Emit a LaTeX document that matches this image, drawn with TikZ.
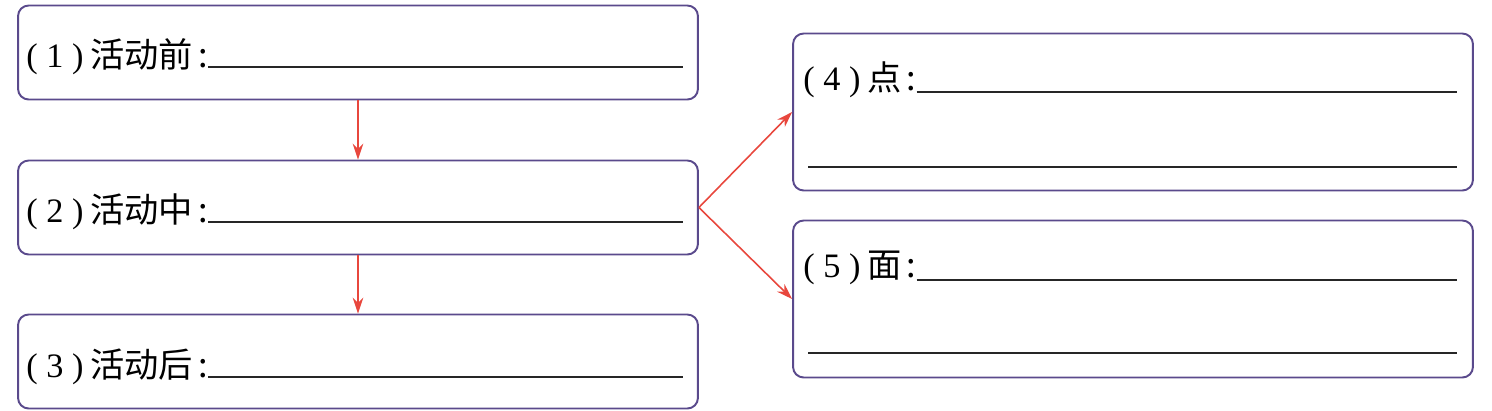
\documentclass[tikz,border=0pt]{standalone}
\usepackage{fontspec}
\setmainfont{Liberation Serif}
\newfontfamily\cjk{Noto Sans CJK SC}
\usetikzlibrary{arrows.meta}
\definecolor{framecol}{HTML}{5A4A8C}
\definecolor{arrowcol}{HTML}{E8473D}
\newcommand\numlabel[1]{(\hspace{.25em}#1\hspace{.25em})\hspace{.2em}}
\newcommand\colonmark{\hspace{.15em}{\cjk :}\hspace{.04em}}

\begin{document}
\begin{tikzpicture}[x=0.02cm,y=-0.02cm,
  frame/.style={draw=framecol,line width=1.1pt,rounded corners=6pt,
    minimum width=13.6cm,inner sep=0pt},
  small/.style={frame,minimum height=1.88cm},
  large/.style={frame,minimum height=3.14cm},
  label/.style={anchor=base west,inner sep=0pt,font=\fontsize{19.5}{23}\selectfont},
  blank/.style={line width=1pt,black!85},
  flow/.style={draw=arrowcol,line width=.9pt,-{Stealth[length=9pt,width=6pt]}}]
\useasboundingbox (0,0) rectangle (1492,410);

\node[small] (b1) at (358,52.5) {};
\node[small] (b2) at (358,207.5) {};
\node[small] (b3) at (358,361.5) {};
\node[large] (b4) at (1133,112) {};
\node[large] (b5) at (1133,299) {};

\node[label] (t1) at (26,67) {\numlabel{1}{\cjk 活动前}\colonmark};
\node[label] (t2) at (26,222) {\numlabel{2}{\cjk 活动中}\colonmark};
\node[label] (t3) at (26,377) {\numlabel{3}{\cjk 活动后}\colonmark};
\node[label] (t4) at (803,90) {\numlabel{4}{\cjk 点}\colonmark};
\node[label] (t5) at (803,277) {\numlabel{5}{\cjk 面}\colonmark};

\draw[blank] (t1.base east) -- (683,67);
\draw[blank] (t2.base east) -- (683,222);
\draw[blank] (t3.base east) -- (683,377);
\draw[blank] (t4.base east) ++(0,2) -- (1457,92);
\draw[blank] (808,167) -- (1457,167);
\draw[blank] (t5.base east) ++(0,3) -- (1457,280);
\draw[blank] (808,353) -- (1457,353);

\draw[flow] (b1) -- (b2);
\draw[flow] (b2) -- (b3);
\draw[flow] (b2.east) -- (b4.west);
\draw[flow] (b2.east) -- (b5.west);
\end{tikzpicture}
\end{document}
